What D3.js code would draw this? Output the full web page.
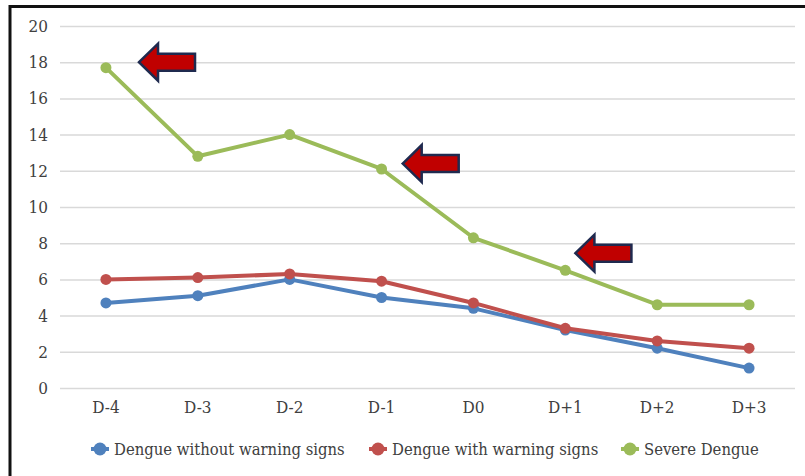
<!DOCTYPE html>
<html>
<head>
<meta charset="utf-8">
<script src="https://cdn.jsdelivr.net/npm/d3@7"></script>
<style>
  html, body { margin: 0; padding: 0; background: #fff; }
  svg { display: block; }
  text { font-family: "DejaVu Serif Condensed", "DejaVu Serif", serif; fill: #404040; }
</style>
</head>
<body>
<svg id="chart" width="805" height="476"></svg>
<script>
// Days relative to defervescence
const days = ["D-4", "D-3", "D-2", "D-1", "D0", "D+1", "D+2", "D+3"];
const withoutWarning = [4.7, 5.1, 6.0, 5.0, 4.4, 3.2, 2.2, 1.1];
const withWarning    = [6.0, 6.1, 6.3, 5.9, 4.7, 3.3, 2.6, 2.2];
const severe         = [17.7, 12.8, 14.0, 12.1, 8.3, 6.5, 4.6, 4.6];
const yTicks = [0, 2, 4, 6, 8, 10, 12, 14, 16, 18, 20];
const seriesNames = ["Dengue without warning signs", "Dengue with warning signs", "Severe Dengue"];
const seriesColors = ["#4f81bd", "#c0504d", "#9bbb59"];

// Arrow call-outs: category they sit beside, shift along the band, height in data units
const arrowDays   = ["D-4", "D-1", "D+1"];
const arrowShift  = [0.36, 0.23, 0.11];
const arrowLevels = [18.0, 12.4, 7.45];

const FONT = "'DejaVu Serif Condensed', 'DejaVu Serif', serif";
const svg = d3.select("#chart");
const W = 805, H = 476;
const plot = { left: 60, right: 795, top: 26, bottom: 388 };

const x = d3.scaleBand().domain(days).range([plot.left, plot.right]);
const xc = d => x(d) + x.bandwidth() / 2;
const y = d3.scaleLinear().domain([0, 20]).range([plot.bottom, plot.top]);

// Frame
svg.append("rect").attr("x", 0).attr("y", 0).attr("width", W).attr("height", H).attr("fill", "#fff");
svg.append("path")
  .attr("d", `M10,${H + 5} L10,6.5 L${W + 5},6.5`)
  .attr("fill", "none").attr("stroke", "#111").attr("stroke-width", 3);

// Gridlines + y labels
const yAxis = d3.axisLeft(y).tickValues(yTicks).tickSize(-(plot.right - plot.left)).tickPadding(12);
const gy = svg.append("g").attr("transform", `translate(${plot.left},0)`).call(yAxis);
gy.select(".domain").remove();
gy.selectAll(".tick line").attr("stroke", "#d9d9d9").attr("stroke-width", 1.5);
gy.selectAll(".tick text").attr("fill", "#404040")
  .style("font-family", FONT).style("font-size", "17px");

// x labels
const xAxis = d3.axisBottom(x).tickSize(0).tickPadding(13);
const gx = svg.append("g").attr("transform", `translate(0,${plot.bottom})`).call(xAxis);
gx.select(".domain").remove();
gx.selectAll(".tick text").attr("fill", "#404040")
  .style("font-family", FONT).style("font-size", "17px");

// Lines + markers
const allSeries = [withoutWarning, withWarning, severe];
const line = d3.line().x((d, i) => xc(days[i])).y(d => y(d));
allSeries.forEach((vals, s) => {
  const g = svg.append("g");
  g.append("path").datum(vals).attr("d", line)
    .attr("fill", "none").attr("stroke", seriesColors[s]).attr("stroke-width", 4)
    .attr("stroke-linejoin", "round");
  g.selectAll("circle").data(vals).join("circle")
    .attr("cx", (d, i) => xc(days[i])).attr("cy", d => y(d)).attr("r", 5.5)
    .attr("fill", seriesColors[s]);
});

// Red block arrows pointing left
const arrowLen = 56, headLen = 19, headHalf = 18.5, shaftHalf = 8.5;
arrowDays.forEach((d, i) => {
  const tx = xc(d) + arrowShift[i] * x.bandwidth();
  const ty = y(arrowLevels[i]);
  const pts = [
    [tx, ty], [tx + headLen, ty - headHalf], [tx + headLen, ty - shaftHalf],
    [tx + arrowLen, ty - shaftHalf], [tx + arrowLen, ty + shaftHalf],
    [tx + headLen, ty + shaftHalf], [tx + headLen, ty + headHalf]
  ];
  svg.append("path").attr("d", "M" + pts.map(p => p.join(",")).join("L") + "Z")
    .attr("fill", "#c00000").attr("stroke", "#1f2a4f").attr("stroke-width", 2.5)
    .attr("stroke-linejoin", "miter");
});

// Legend
const legendX = [100, 378, 630];
const legendY = 449;
seriesNames.forEach((name, s) => {
  const g = svg.append("g").attr("transform", `translate(${legendX[s]},${legendY})`);
  g.append("line").attr("x1", -9).attr("x2", 9).attr("y1", 0).attr("y2", 0)
    .attr("stroke", seriesColors[s]).attr("stroke-width", 4);
  g.append("circle").attr("r", 6.5).attr("fill", seriesColors[s]);
  g.append("text").attr("x", 14).attr("y", 0).attr("dy", "0.35em")
    .style("font-family", FONT).style("font-size", "16.5px")
    .attr("fill", "#262626").text(name);
});
</script>
</body>
</html>
